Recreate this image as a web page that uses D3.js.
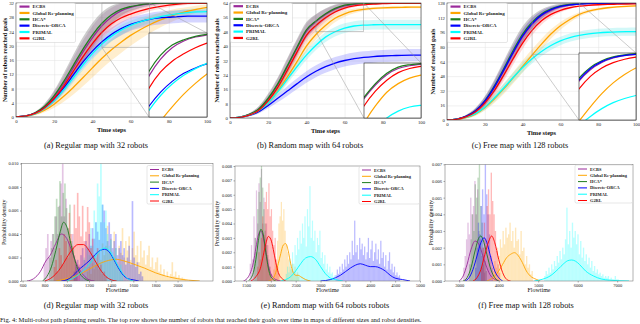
<!DOCTYPE html>
<html>
<head>
<meta charset="utf-8">
<script src="https://cdn.jsdelivr.net/npm/d3@7"></script>
<style>
  html, body { margin: 0; padding: 0; background: #fff; }
  svg { display: block; }
</style>
</head>
<body>
<svg id="fig" width="640" height="324"></svg>
<script>
// Multi-robot path planning results — 2x3 panel figure

const METHODS = ['ECBS', 'Global Re-planning', 'HCA*', 'Discrete-ORCA', 'PRIMAL', 'G2RL'];
const COLORS = ['#9a2a9a', '#ffa500', '#1e7d1e', '#0000ff', '#00ffff', '#ff0000'];
const BAND_COLORS = ['#a050a0', '#ffb020', '#606060', '#4040ff', '#30e0e0', '#ff5050'];

const TIME_STEPS = [0, 5, 10, 15, 20, 25, 30, 35, 40, 45, 50, 55, 60, 65, 70, 75, 80, 85, 90, 95, 100];
const X_TICKS_TOP = [0, 20, 40, 60, 80, 100];
const Y_TICKS_A = [0, 4, 8, 12, 16, 20, 24, 28, 32];
const Y_TICKS_B = [0, 8, 16, 24, 32, 40, 48, 56, 64];
const Y_TICKS_C = [0, 16, 32, 48, 64, 80, 96, 112, 128];

// (a) regular map, 32 robots — mean reached goals, method order as METHODS
const meanA = [
  [0, 0.3, 1.1, 2.8, 5.6, 9.4, 13.8, 18.2, 22.2, 25.6, 28.1, 29.8, 30.8, 31.4, 31.7, 31.9, 32, 32, 32, 32, 32],
  [0, 0.2, 0.8, 1.9, 3.6, 5.8, 8.3, 11, 13.8, 16.5, 18.9, 21, 22.9, 24.5, 25.9, 27.1, 28.1, 29, 29.7, 30.3, 30.8],
  [0, 0.3, 1.2, 3, 6, 10, 14.5, 19, 23, 26.3, 28.7, 30.2, 31, 31.5, 31.8, 32, 32, 32, 32, 32, 32],
  [0, 0.3, 1, 2.6, 5, 8.2, 11.8, 15.4, 18.5, 21.1, 23.2, 24.8, 26, 26.8, 27.4, 27.8, 28, 28.2, 28.3, 28.3, 28.3],
  [0, 0.3, 0.9, 2.4, 4.6, 7.6, 11, 14.6, 17.8, 20.5, 22.7, 24.4, 25.7, 26.7, 27.5, 28.1, 28.6, 29, 29.3, 29.5, 29.6],
  [0, 0.3, 1, 2.6, 5.2, 8.7, 12.8, 16.9, 20.6, 23.8, 26.2, 27.8, 28.9, 29.8, 30.5, 31, 31.4, 31.7, 31.9, 32, 32]
];
const sdA = [
  [0, 0.1, 0.3, 0.8, 1.5, 2.2, 2.8, 3.2, 3.3, 3.1, 2.6, 2, 1.4, 0.9, 0.6, 0.4, 0.2, 0.1, 0.1, 0, 0],
  [0, 0.1, 0.3, 0.6, 1, 1.5, 2, 2.4, 2.7, 2.9, 3, 3, 2.9, 2.7, 2.4, 2.1, 1.8, 1.5, 1.2, 1, 0.8],
  [0, 0.1, 0.3, 0.8, 1.5, 2.3, 3, 3.4, 3.4, 3.1, 2.5, 1.8, 1.2, 0.8, 0.5, 0.3, 0.2, 0.1, 0, 0, 0],
  [0, 0.1, 0.2, 0.5, 0.9, 1.3, 1.6, 1.8, 1.9, 1.9, 1.9, 1.9, 1.8, 1.8, 1.8, 1.8, 1.8, 1.8, 1.8, 1.8, 1.8],
  [0, 0.1, 0.2, 0.4, 0.7, 1, 1.3, 1.5, 1.6, 1.6, 1.5, 1.4, 1.3, 1.2, 1.1, 1, 1, 1, 1, 1, 1],
  [0, 0.1, 0.3, 0.6, 1, 1.4, 1.7, 1.9, 2, 1.9, 1.7, 1.4, 1.2, 1, 0.8, 0.7, 0.6, 0.5, 0.4, 0.3, 0.3]
];

// (b) random map, 64 robots
const meanB = [
  [0, 0.5, 1.9, 4.8, 10.5, 18.5, 28.4, 38.6, 48.2, 53.6, 57.6, 60.6, 62.4, 63.2, 63.6, 63.8, 63.9, 64, 64, 64, 64],
  [0, 0.4, 1.5, 3.8, 8.5, 15, 22.8, 31.2, 40, 46.5, 51.5, 55.5, 58, 59.6, 60.5, 61, 61.3, 61.5, 61.6, 61.7, 61.7],
  [0, 0.5, 2, 5, 11, 19, 29, 39.2, 49, 54, 58, 61, 62.8, 63.5, 63.8, 64, 64, 64, 64, 64, 64],
  [0, 0.4, 1.4, 3.5, 7, 11, 15, 19, 22.8, 26, 28.6, 30.6, 32, 33, 33.7, 34.2, 34.5, 34.7, 34.9, 35, 35],
  [0, 0.5, 1.6, 4, 8.5, 14.5, 21.5, 28.5, 35, 40.5, 45, 48, 50, 51.2, 51.7, 51.9, 52, 52, 52, 52, 52],
  [0, 0.4, 1.6, 4.2, 9.5, 17, 26.5, 36.5, 46, 51.5, 55.8, 59, 61.2, 62.4, 63, 63.4, 63.6, 63.8, 63.9, 64, 64]
];
const sdB = [
  [0, 0.2, 0.6, 1.5, 2.5, 3.5, 4.2, 4.5, 4.3, 3.8, 3, 2.2, 1.5, 1, 0.6, 0.4, 0.2, 0.1, 0, 0, 0],
  [0, 0.2, 0.5, 1, 1.6, 2.2, 2.7, 3, 3.1, 3, 2.7, 2.2, 1.7, 1.3, 1, 0.8, 0.7, 0.6, 0.6, 0.6, 0.6],
  [0, 0.2, 0.6, 1.5, 2.6, 3.6, 4.3, 4.6, 4.4, 3.8, 3, 2.1, 1.4, 0.9, 0.5, 0.3, 0.2, 0.1, 0, 0, 0],
  [0, 0.2, 0.5, 1, 1.6, 2.2, 2.7, 3, 3.2, 3.3, 3.4, 3.4, 3.4, 3.4, 3.4, 3.4, 3.4, 3.4, 3.4, 3.4, 3.4],
  [0, 0.2, 0.5, 1, 1.6, 2.1, 2.4, 2.6, 2.7, 2.7, 2.7, 2.7, 2.7, 2.7, 2.7, 2.7, 2.7, 2.7, 2.7, 2.7, 2.7],
  [0, 0.2, 0.5, 1.2, 2, 2.8, 3.3, 3.5, 3.3, 2.8, 2.2, 1.6, 1.1, 0.7, 0.5, 0.3, 0.2, 0.2, 0.1, 0.1, 0.1]
];

// (c) free map, 128 robots
const meanC = [
  [0, 0.9, 3.8, 9.6, 20, 35.5, 54, 73, 91, 104.5, 114, 120, 123.8, 125.8, 126.9, 127.4, 127.6, 127.7, 127.8, 127.8, 127.8],
  [0, 0.6, 2.5, 6.5, 13.5, 23, 34, 46, 58.5, 71, 83, 94, 103, 110, 115.5, 119, 121.3, 122.8, 123.8, 124.4, 124.8],
  [0, 1, 4, 10, 21, 37, 56, 76, 94, 107, 116, 121.5, 124.8, 126.5, 127.4, 127.8, 128, 128, 128, 128, 128],
  [0, 1, 3.9, 9.8, 20.5, 36, 54.5, 74, 92, 105.5, 115, 120.8, 124.2, 126, 126.9, 127.3, 127.5, 127.6, 127.6, 127.6, 127.6],
  [0, 0.7, 2.8, 7, 14, 24, 35, 46.5, 57.5, 67, 75, 81.5, 86.5, 90, 92.5, 94.2, 95.3, 96, 96.4, 96.6, 96.7],
  [0, 0.8, 3.4, 8.8, 18.5, 32, 49, 67, 84, 98, 108.5, 115.5, 120, 122.8, 124.5, 125.5, 126.1, 126.5, 126.7, 126.9, 127]
];
const sdC = [
  [0, 0.5, 1.5, 3, 5, 7, 8.5, 9, 8.5, 7, 5.2, 3.6, 2.4, 1.5, 1, 0.6, 0.4, 0.3, 0.2, 0.2, 0.2],
  [0, 0.3, 1, 2, 3.2, 4.5, 5.5, 6.2, 6.5, 6.4, 6, 5.2, 4.2, 3.2, 2.4, 1.8, 1.4, 1.2, 1, 1, 1],
  [0, 0.5, 1.5, 3, 5, 7, 8.5, 9, 8.5, 7, 5, 3.5, 2.3, 1.5, 1, 0.6, 0.4, 0.3, 0.2, 0.2, 0.2],
  [0, 0.4, 1.2, 2.5, 4, 5.5, 6.5, 7, 6.5, 5.5, 4.2, 3, 2, 1.3, 0.8, 0.5, 0.4, 0.3, 0.3, 0.3, 0.3],
  [0, 0.3, 1, 2, 3, 4, 4.8, 5.2, 5.3, 5.2, 5, 4.8, 4.6, 4.5, 4.4, 4.4, 4.4, 4.4, 4.4, 4.4, 4.4],
  [0, 0.4, 1.2, 2.4, 3.8, 5.2, 6.2, 6.6, 6.3, 5.4, 4.2, 3, 2, 1.3, 0.9, 0.6, 0.5, 0.4, 0.4, 0.4, 0.4]
];

// zoomed windows shown in the insets: [x0, x1, y0, y1]
const ZOOM_A = [45, 70, 19.5, 32];
const ZOOM_B = [45, 70, 48, 64];
const ZOOM_C = [45, 70, 72, 128];

// Flowtime histograms: [first bin edge, bin width, densities (x1e-3)]
const binsD = [
  [790, 15, [1.5, 2.8, 4.0, 2.0, 3.4, 4.0, 2.8, 5.5, 4.0, 6.4, 8.3, 10.0, 5.5, 7.0, 4.5, 3.4, 2.8, 4.0, 2.2, 1.4, 0.8, 1.4]],
  [1180, 15, [0.8, 1.2, 0.6, 1.5, 1.0, 2.0, 1.4, 2.6, 1.8, 3.2, 2.2, 3.0, 4.7, 2.4, 3.6, 2.0, 4.2, 2.8, 1.6, 3.0,
              2.4, 4.5, 2.0, 3.4, 2.6, 3.8, 1.8, 2.8, 4.2, 2.2, 3.0, 1.6, 3.4, 2.0, 2.6, 1.4, 2.2, 3.0, 1.2, 2.0,
              1.0, 1.6, 2.0, 0.8, 1.4, 0.6, 1.0, 0.4, 0.8, 0.3, 0.6, 1.6, 0.4, 0.8, 0.3, 0.5, 0.2, 0.3, 0.2, 0.1]],
  [840, 15, [2.0, 2.8, 4.0, 5.5, 7.0, 6.3, 8.5, 5.5, 7.5, 8.3, 6.2, 4.5, 6.5, 3.4, 2.8, 1.7, 1.2]],
  [1060, 15, [0.8, 1.4, 1.8, 1.2, 2.2, 2.8, 1.8, 3.4, 2.8, 4.0, 3.0, 4.5, 3.6, 5.0, 4.2, 3.5, 5.0, 6.5, 6.0, 4.5,
              3.4, 5.0, 4.0, 2.8, 3.4, 4.0, 2.2, 2.8, 3.4, 2.2, 2.8, 1.4, 2.0, 3.0, 1.4, 6.8, 2.0, 1.2, 1.6, 0.6, 0.8, 0.4]],
  [1120, 15, [0.8, 1.4, 2.0, 1.2, 3.0, 2.2, 4.5, 3.0, 6.0, 5.0, 8.3, 7.2, 10.0, 6.5, 5.0, 6.0, 4.0, 3.0, 3.5, 2.5,
              2.0, 2.8, 1.4, 1.0, 1.4, 0.6]],
  [880, 15, [1.2, 1.8, 0.8, 2.8, 2.2, 1.4, 4.0, 3.4, 2.0, 5.8, 4.0, 3.0, 6.5, 4.5, 7.5, 5.5, 3.8, 6.4, 3.4, 4.2,
             6.3, 5.0, 2.8, 3.6, 2.2, 1.4, 2.8, 1.0, 1.4, 0.6, 0.8, 0.4]]
];
const binsE = [
  [1575, 25, [1.2, 2.5, 1.5, 4.5, 3.0, 6.3, 4.0, 6.8, 5.5, 7.8, 4.0, 5.8, 3.5, 4.0, 2.5, 1.5, 1.0, 0.5]],
  [2050, 25, [0.8, 1.5, 1.0, 2.8, 4.0, 4.5, 5.5, 4.2, 5.0, 3.5, 2.5, 2.0, 1.5, 1.0, 0.8, 1.2, 0.6, 1.0, 0.4, 0.6, 0.3]],
  [1650, 25, [1.5, 3.0, 2.0, 5.0, 6.2, 7.2, 8.0, 6.5, 5.0, 4.0, 2.5, 1.8, 1.0, 0.5]],
  [3300, 25, [0.4, 0.8, 0.5, 1.0, 0.6, 1.2, 0.8, 1.5, 1.0, 1.8, 1.2, 2.0, 1.5, 2.8, 1.8, 4.2, 2.0, 2.5, 1.5, 3.0,
              2.2, 2.6, 1.8, 2.4, 1.5, 2.0, 3.0, 1.6, 2.2, 2.8, 1.4, 2.0, 2.6, 1.5, 2.2, 1.2, 2.8, 1.6, 2.0, 1.0,
              1.8, 0.8, 1.4, 2.0, 0.8, 1.2, 0.6, 1.0, 0.4, 0.6, 0.3, 0.4]],
  [2300, 25, [0.5, 1.0, 0.6, 1.5, 0.8, 2.0, 1.2, 2.5, 1.8, 3.0, 2.2, 3.5, 2.6, 4.0, 3.0, 4.5, 2.4, 5.0, 3.8, 6.6,
              3.0, 4.2, 2.8, 3.5, 2.0, 3.0, 2.5, 3.5, 1.6, 2.0, 1.2, 1.8, 0.8, 1.2, 0.6, 1.0, 0.5, 0.6, 0.3, 0.4]],
  [1725, 25, [1.0, 2.0, 1.5, 3.0, 4.5, 3.2, 5.5, 6.2, 5.0, 6.8, 4.5, 5.0, 3.5, 2.5, 3.0, 1.5, 1.0, 0.5]]
];
const binsF = [
  [3100, 35, [0.8, 1.5, 2.5, 3.5, 2.8, 5.0, 4.0, 4.5, 6.0, 4.0, 5.5, 3.0, 2.5, 1.5, 1.0, 0.5]],
  [3850, 35, [0.6, 1.2, 0.8, 2.0, 1.5, 2.5, 2.0, 3.0, 2.2, 3.2, 2.6, 2.8, 3.5, 2.4, 3.0, 2.0, 3.2, 2.4, 2.5, 1.6,
              3.0, 1.8, 2.0, 1.0, 1.5, 0.8, 1.0, 0.4, 0.6]],
  [3250, 35, [1.0, 2.5, 4.0, 3.0, 5.8, 5.0, 6.2, 7.0, 4.5, 3.5, 2.0, 1.2, 0.6]],
  [3400, 35, [0.8, 2.0, 3.5, 2.8, 4.5, 5.5, 4.0, 7.0, 5.2, 4.0, 2.8, 1.5, 0.8]],
  [5150, 35, [0.3, 0.6, 0.4, 0.8, 0.5, 1.0, 0.7, 1.2, 0.9, 1.5, 1.1, 1.8, 1.3, 2.0, 1.6, 2.5, 4.4, 2.2, 3.0, 2.0,
              3.5, 2.6, 3.0, 2.2, 2.8, 1.6, 2.4, 1.4, 2.0, 1.2, 1.6, 1.0, 1.4, 0.8, 1.2, 0.6, 0.9, 0.5, 0.7, 0.4,
              0.5, 0.3, 0.4, 0.2, 0.3, 0.2, 0.3, 0.1, 0.2, 0.1, 0.1, 0.3, 0.1, 0.1]],
  [3550, 35, [0.8, 2.0, 3.5, 2.5, 4.5, 5.5, 4.0, 6.5, 4.8, 4.0, 3.0, 1.8, 1.0, 0.5]]
];

// Kernel density curves: [flowtime, density (x1e-3)]
const kdeD = [
  [[640, 0], [700, 0.2], [760, 0.8], [810, 1.7], [850, 2.2], [900, 3.2], [950, 4.0], [1000, 3.6], [1050, 2.4], [1100, 1.2], [1150, 0.5], [1200, 0.1], [1250, 0]],
  [[900, 0], [1000, 0.2], [1100, 0.5], [1200, 1.0], [1300, 1.5], [1400, 1.8], [1450, 1.85], [1500, 1.75], [1600, 1.45], [1700, 1.1], [1800, 0.7], [1900, 0.4], [2000, 0.2], [2100, 0.07], [2200, 0]],
  [[780, 0], [820, 0.4], [860, 1.2], [900, 2.6], [940, 4.2], [970, 5.0], [1000, 4.6], [1040, 3.0], [1080, 1.5], [1120, 0.6], [1160, 0.2], [1200, 0]],
  [[950, 0], [1000, 0.1], [1050, 0.4], [1100, 0.9], [1150, 1.3], [1200, 1.7], [1250, 2.2], [1300, 2.6], [1340, 2.7], [1380, 2.5], [1420, 1.9], [1460, 1.2], [1500, 0.6], [1550, 0.2], [1600, 0.1], [1650, 0]],
  [[1000, 0], [1050, 0.2], [1100, 0.5], [1150, 0.9], [1200, 1.4], [1250, 2.0], [1300, 2.6], [1340, 2.8], [1380, 2.6], [1420, 2.0], [1460, 1.3], [1500, 0.7], [1550, 0.2], [1600, 0]],
  [[800, 0], [850, 0.2], [900, 0.6], [950, 1.2], [1000, 2.0], [1050, 2.7], [1100, 3.1], [1150, 3.1], [1200, 2.6], [1250, 1.8], [1300, 1.0], [1350, 0.4], [1400, 0.1], [1450, 0]]
];
const kdeE = [
  [[1450, 0], [1550, 0.3], [1650, 1.3], [1700, 2.3], [1750, 3.2], [1800, 3.5], [1850, 3.0], [1900, 2.0], [1950, 1.1], [2000, 0.5], [2100, 0.1], [2200, 0]],
  [[1950, 0], [2050, 0.2], [2100, 0.6], [2150, 1.2], [2200, 1.9], [2250, 2.5], [2300, 2.6], [2350, 2.1], [2400, 1.2], [2450, 0.6], [2500, 0.4], [2550, 0.4], [2600, 0.3], [2700, 0.1], [2800, 0]],
  [[1550, 0], [1650, 0.6], [1700, 1.5], [1750, 2.8], [1800, 3.6], [1850, 3.2], [1900, 2.0], [1950, 0.9], [2000, 0.3], [2100, 0]],
  [[3000, 0], [3200, 0.1], [3400, 0.4], [3600, 0.9], [3700, 1.1], [3800, 1.2], [3900, 1.1], [4000, 1.0], [4100, 1.0], [4200, 0.9], [4300, 0.7], [4400, 0.4], [4500, 0.2], [4650, 0.1], [4800, 0]],
  [[2200, 0], [2300, 0.1], [2400, 0.3], [2500, 0.7], [2600, 1.2], [2700, 1.6], [2800, 1.7], [2900, 1.5], [3000, 1.0], [3100, 0.5], [3200, 0.2], [3300, 0.1], [3450, 0]],
  [[1600, 0], [1700, 0.3], [1800, 1.0], [1850, 1.8], [1900, 2.6], [1950, 3.1], [2000, 2.9], [2050, 2.2], [2100, 1.3], [2150, 0.6], [2250, 0.1], [2300, 0]]
];
const kdeF = [
  [[3000, 0], [3100, 0.3], [3200, 1.0], [3300, 1.9], [3400, 2.4], [3500, 2.2], [3600, 1.5], [3700, 0.8], [3800, 0.3], [3900, 0.1], [4000, 0]],
  [[3700, 0], [3850, 0.2], [4000, 0.6], [4100, 1.0], [4200, 1.4], [4300, 1.6], [4400, 1.7], [4500, 1.5], [4600, 1.1], [4700, 0.6], [4800, 0.3], [4950, 0.1], [5050, 0]],
  [[3100, 0], [3200, 0.2], [3300, 0.8], [3400, 1.8], [3500, 2.6], [3550, 2.7], [3600, 2.5], [3700, 1.6], [3800, 0.7], [3900, 0.2], [4000, 0]],
  [[3150, 0], [3250, 0.2], [3350, 0.7], [3450, 1.5], [3550, 2.3], [3630, 2.6], [3700, 2.3], [3800, 1.4], [3900, 0.6], [4000, 0.2], [4100, 0]],
  [[4900, 0], [5100, 0.1], [5300, 0.3], [5500, 0.7], [5650, 1.05], [5750, 1.22], [5850, 1.26], [5950, 1.18], [6050, 0.98], [6200, 0.6], [6400, 0.3], [6600, 0.12], [6800, 0.05], [7000, 0.02], [7300, 0]],
  [[3350, 0], [3450, 0.2], [3550, 0.7], [3650, 1.6], [3750, 2.4], [3820, 2.7], [3900, 2.3], [4000, 1.3], [4100, 0.5], [4200, 0.1], [4300, 0]]
];

const Y_TICKS_D = [0, 2, 4, 6, 8, 10];
const Y_TICKS_E = [0, 1, 2, 3, 4, 5, 6, 7, 8];
const Y_TICKS_F = [0, 1, 2, 3, 4, 5, 6, 7];
const X_TICKS_D = [600, 800, 1000, 1200, 1400, 1600, 1800, 2000];
const X_TICKS_E = [1500, 2000, 2500, 3000, 3500, 4000, 4500, 5000];
const X_TICKS_F = [3000, 4000, 5000, 6000, 7000];

const CAPTIONS = [
  '(a) Regular map with 32 robots', '(b) Random map with 64 robots', '(c) Free map with 128 robots',
  '(d) Regular map with 32 robots', '(e) Random map with 64 robots robots', '(f) Free map with 128 robots'
];
const FIG_CAPTION = 'Fig. 4: Multi-robot path planning results. The top row shows the number of robots that reached their goals over time in maps of different sizes and robot densities.';

const FONT = '"Liberation Serif", "DejaVu Serif", serif';
const svg = d3.select('#fig');
const defs = svg.append('defs');

function styleTicks(sel, lineColor, size) {
  sel.select('.domain').remove();
  sel.selectAll('.tick line').attr('stroke', lineColor).attr('stroke-width', 0.5);
  sel.selectAll('.tick text')
    .attr('font-family', FONT)
    .attr('font-size', size)
    .attr('fill', '#222');
}

function drawLegend(box, lineW, fontSize) {
  const g = svg.append('g');
  g.append('rect')
    .attr('x', box.x).attr('y', box.y)
    .attr('width', box.w).attr('height', box.h)
    .attr('rx', 1.5)
    .attr('fill', '#fff').attr('fill-opacity', 0.85)
    .attr('stroke', '#ccc').attr('stroke-width', 0.5);
  const rows = g.selectAll('g.row')
    .data(METHODS)
    .join('g')
    .attr('transform', (d, i) => `translate(${box.x + 3},${box.y + box.first + i * box.step})`);
  rows.append('line')
    .attr('x1', 0).attr('x2', box.line)
    .attr('stroke', (d, i) => COLORS[i])
    .attr('stroke-width', lineW);
  rows.append('text')
    .attr('x', box.line + 3)
    .attr('dy', '0.35em')
    .attr('font-family', FONT)
    .attr('font-weight', 'bold')
    .attr('font-size', fontSize)
    .attr('fill', '#222')
    .text(d => d);
}

// Top row: robots reaching goals over time, with inset zoom
function drawProgress(p) {
  const x = d3.scaleLinear().domain([0, 100]).range([p.left, p.right]);
  const y = d3.scaleLinear().domain([0, p.ymax]).range([p.bottom, p.top]);
  const g = svg.append('g');

  g.append('g')
    .attr('transform', `translate(0,${p.bottom})`)
    .call(d3.axisBottom(x).tickValues(X_TICKS_TOP).tickSize(-(p.bottom - p.top)).tickPadding(2.5))
    .call(s => styleTicks(s, '#e2e2e2', 4.8));
  g.append('g')
    .attr('transform', `translate(${p.left},0)`)
    .call(d3.axisLeft(y).tickValues(p.yticks).tickSize(-(p.right - p.left)).tickPadding(2))
    .call(s => styleTicks(s, '#e2e2e2', 4.8));

  defs.append('clipPath').attr('id', 'clip-' + p.id)
    .append('rect')
    .attr('x', p.left).attr('y', p.top)
    .attr('width', p.right - p.left).attr('height', p.bottom - p.top);

  const plot = g.append('g').attr('clip-path', `url(#clip-${p.id})`);

  p.mean.forEach((m, k) => {
    const sd = p.sd[k];
    const area = d3.area()
      .x((d, i) => x(TIME_STEPS[i]))
      .y0((d, i) => y(d - sd[i]))
      .y1((d, i) => y(d + sd[i]))
      .curve(d3.curveMonotoneX);
    plot.append('path')
      .datum(m)
      .attr('d', area)
      .attr('fill', BAND_COLORS[k])
      .attr('fill-opacity', k === 2 ? 0.32 : 0.22);
  });

  const line = d3.line()
    .x((d, i) => x(TIME_STEPS[i]))
    .y(d => y(d))
    .curve(d3.curveMonotoneX);
  p.mean.forEach((m, k) => {
    plot.append('path')
      .datum(m)
      .attr('d', line)
      .attr('fill', 'none')
      .attr('stroke', COLORS[k])
      .attr('stroke-width', 1.3);
  });

  g.append('rect')
    .attr('x', p.left).attr('y', p.top)
    .attr('width', p.right - p.left).attr('height', p.bottom - p.top)
    .attr('fill', 'none').attr('stroke', '#333').attr('stroke-width', 0.6);

  // zoom rectangle and connectors
  const [zx0, zx1, zy0, zy1] = p.zoom;
  const ins = p.inset;
  g.append('rect')
    .attr('x', x(zx0)).attr('y', y(zy1))
    .attr('width', x(zx1) - x(zx0)).attr('height', y(zy0) - y(zy1))
    .attr('fill', 'none').attr('stroke', '#999').attr('stroke-width', 0.5);
  g.append('line')
    .attr('x1', x(zx0)).attr('y1', y(zy0)).attr('x2', ins.x0).attr('y2', ins.y1)
    .attr('stroke', '#999').attr('stroke-width', 0.5);
  g.append('line')
    .attr('x1', x(zx1)).attr('y1', y(zy1)).attr('x2', ins.x1).attr('y2', ins.y0)
    .attr('stroke', '#999').attr('stroke-width', 0.5);

  // inset axes
  const ix = d3.scaleLinear().domain([zx0, zx1]).range([ins.x0, ins.x1]);
  const iy = d3.scaleLinear().domain([zy0, zy1]).range([ins.y1, ins.y0]);
  defs.append('clipPath').attr('id', 'inset-' + p.id)
    .append('rect')
    .attr('x', ins.x0).attr('y', ins.y0)
    .attr('width', ins.x1 - ins.x0).attr('height', ins.y1 - ins.y0);
  g.append('rect')
    .attr('x', ins.x0).attr('y', ins.y0)
    .attr('width', ins.x1 - ins.x0).attr('height', ins.y1 - ins.y0)
    .attr('fill', '#fff');
  const inset = g.append('g').attr('clip-path', `url(#inset-${p.id})`);
  const iline = d3.line()
    .x((d, i) => ix(TIME_STEPS[i]))
    .y(d => iy(d))
    .curve(d3.curveMonotoneX);
  p.mean.forEach((m, k) => {
    inset.append('path')
      .datum(m)
      .attr('d', iline)
      .attr('fill', 'none')
      .attr('stroke', COLORS[k])
      .attr('stroke-width', 1.2);
  });
  g.append('rect')
    .attr('x', ins.x0).attr('y', ins.y0)
    .attr('width', ins.x1 - ins.x0).attr('height', ins.y1 - ins.y0)
    .attr('fill', 'none').attr('stroke', '#222').attr('stroke-width', 0.6);

  // labels
  g.append('text')
    .attr('x', (p.left + p.right) / 2).attr('y', p.bottom + 14.5)
    .attr('text-anchor', 'middle')
    .attr('font-family', FONT).attr('font-weight', 'bold').attr('font-size', 6.4)
    .attr('fill', '#111')
    .text('Time steps');
  g.append('text')
    .attr('transform', `translate(${p.ylabelX},${(p.top + p.bottom) / 2}) rotate(-90)`)
    .attr('text-anchor', 'middle')
    .attr('dy', '0.35em')
    .attr('font-family', FONT).attr('font-weight', 'bold').attr('font-size', 6.2)
    .attr('fill', '#111')
    .text(p.ylabel);

  drawLegend(p.legend, 2.2, 4.9);
}

// Bottom row: flowtime histograms with density curves
function drawDensity(p) {
  const x = d3.scaleLinear().domain(p.xdom).range([p.left, p.right]);
  const y = d3.scaleLinear().domain([0, p.ymax]).range([p.bottom, p.top]);
  const g = svg.append('g');

  defs.append('clipPath').attr('id', 'clip-' + p.id)
    .append('rect')
    .attr('x', p.left).attr('y', p.top)
    .attr('width', p.right - p.left).attr('height', p.bottom - p.top);
  const plot = g.append('g').attr('clip-path', `url(#clip-${p.id})`);

  p.bins.forEach(([start, w, heights], k) => {
    plot.append('g')
      .selectAll('rect')
      .data(heights)
      .join('rect')
      .attr('x', (h, i) => x(start + i * w))
      .attr('width', (h, i) => x(start + (i + 1) * w) - x(start + i * w))
      .attr('y', h => y(h))
      .attr('height', h => y(0) - y(h))
      .attr('fill', COLORS[k])
      .attr('fill-opacity', 0.27);
  });

  const line = d3.line()
    .x(d => x(d[0]))
    .y(d => y(d[1]))
    .curve(d3.curveMonotoneX);
  p.kde.forEach((pts, k) => {
    plot.append('path')
      .datum(pts)
      .attr('d', line)
      .attr('fill', 'none')
      .attr('stroke', COLORS[k])
      .attr('stroke-width', 0.9);
  });

  g.append('g')
    .attr('transform', `translate(0,${p.bottom})`)
    .call(d3.axisBottom(x).tickValues(p.xticks).tickSize(1.5).tickPadding(1.5)
      .tickFormat(d3.format('d')))
    .call(s => styleTicks(s, '#555', 4.5));
  g.append('g')
    .attr('transform', `translate(${p.left},0)`)
    .call(d3.axisLeft(y).tickValues(p.yticks).tickSize(1.5).tickPadding(1.5)
      .tickFormat(v => d3.format('.3f')(v / 1000)))
    .call(s => styleTicks(s, '#555', 4.5));

  g.append('rect')
    .attr('x', p.left).attr('y', p.top)
    .attr('width', p.right - p.left).attr('height', p.bottom - p.top)
    .attr('fill', 'none').attr('stroke', '#666').attr('stroke-width', 0.5);

  g.append('text')
    .attr('x', (p.left + p.right) / 2).attr('y', p.bottom + 11)
    .attr('text-anchor', 'middle')
    .attr('font-family', FONT).attr('font-size', 6)
    .attr('fill', '#111')
    .text('Flowtime');
  g.append('text')
    .attr('transform', `translate(${p.ylabelX},${(p.top + p.bottom) / 2}) rotate(-90)`)
    .attr('text-anchor', 'middle')
    .attr('dy', '0.35em')
    .attr('font-family', FONT).attr('font-size', 6)
    .attr('fill', '#111')
    .text('Probability density');

  drawLegend(p.legend, 1, 4.4);
}

drawProgress({
  id: 'a', mean: meanA, sd: sdA, ymax: 32, yticks: Y_TICKS_A, zoom: ZOOM_A,
  left: 16, right: 207, top: 3, bottom: 117, ylabelX: 4.5,
  ylabel: 'Number of robots reached goals',
  inset: { x0: 149, x1: 207, y0: 33, y1: 117 },
  legend: { x: 16.5, y: 3, w: 59, h: 39.5, first: 3.6, step: 6.35, line: 10 }
});
drawProgress({
  id: 'b', mean: meanB, sd: sdB, ymax: 64, yticks: Y_TICKS_B, zoom: ZOOM_B,
  left: 230, right: 421, top: 3, bottom: 118, ylabelX: 216.5,
  ylabel: 'Number of robots reached goals',
  inset: { x0: 364, x1: 421, y0: 63, y1: 118 },
  legend: { x: 230.5, y: 3, w: 62, h: 39.5, first: 3.2, step: 6.35, line: 9.5 }
});
drawProgress({
  id: 'c', mean: meanC, sd: sdC, ymax: 128, yticks: Y_TICKS_C, zoom: ZOOM_C,
  left: 447, right: 636, top: 3, bottom: 120, ylabelX: 432.5,
  ylabel: 'Number of reached goals',
  inset: { x0: 579, x1: 636, y0: 53, y1: 120 },
  legend: { x: 447.5, y: 3, w: 60, h: 39.5, first: 3.6, step: 6.35, line: 10 }
});

drawDensity({
  id: 'd', bins: binsD, kde: kdeD, xdom: [590, 2320], ymax: 10, xticks: X_TICKS_D, yticks: Y_TICKS_D,
  left: 21.5, right: 213, top: 163.5, bottom: 281, ylabelX: 3.5,
  legend: { x: 147, y: 165.5, w: 65.5, h: 38.5, first: 4, step: 6.3, line: 9 }
});
drawDensity({
  id: 'e', bins: binsE, kde: kdeE, xdom: [1280, 5000], ymax: 8, xticks: X_TICKS_E, yticks: Y_TICKS_E,
  left: 235, right: 420, top: 166, bottom: 281, ylabelX: 217,
  legend: { x: 359, y: 166.5, w: 60.5, h: 37.5, first: 3.5, step: 6.3, line: 9 }
});
drawDensity({
  id: 'f', bins: binsF, kde: kdeF, xdom: [2640, 7400], ymax: 7, xticks: X_TICKS_F, yticks: Y_TICKS_F,
  left: 445, right: 633, top: 164.3, bottom: 281, ylabelX: 431,
  legend: { x: 575, y: 165, w: 57.5, h: 38, first: 4, step: 6.3, line: 9 }
});

// sub-captions
const CAPTION_POS = [[96, 148], [310, 148], [520, 148], [96, 308], [325, 308], [526, 308]];
svg.append('g')
  .selectAll('text')
  .data(CAPTIONS)
  .join('text')
  .attr('x', (d, i) => CAPTION_POS[i][0])
  .attr('y', (d, i) => CAPTION_POS[i][1])
  .attr('text-anchor', 'middle')
  .attr('font-family', FONT)
  .attr('font-size', 8.3)
  .attr('fill', '#111')
  .text(d => d);

svg.append('text')
  .attr('x', 0).attr('y', 321.5)
  .attr('font-family', FONT)
  .attr('font-size', 6.5)
  .attr('fill', '#111')
  .text(FIG_CAPTION);
</script>
</body>
</html>
